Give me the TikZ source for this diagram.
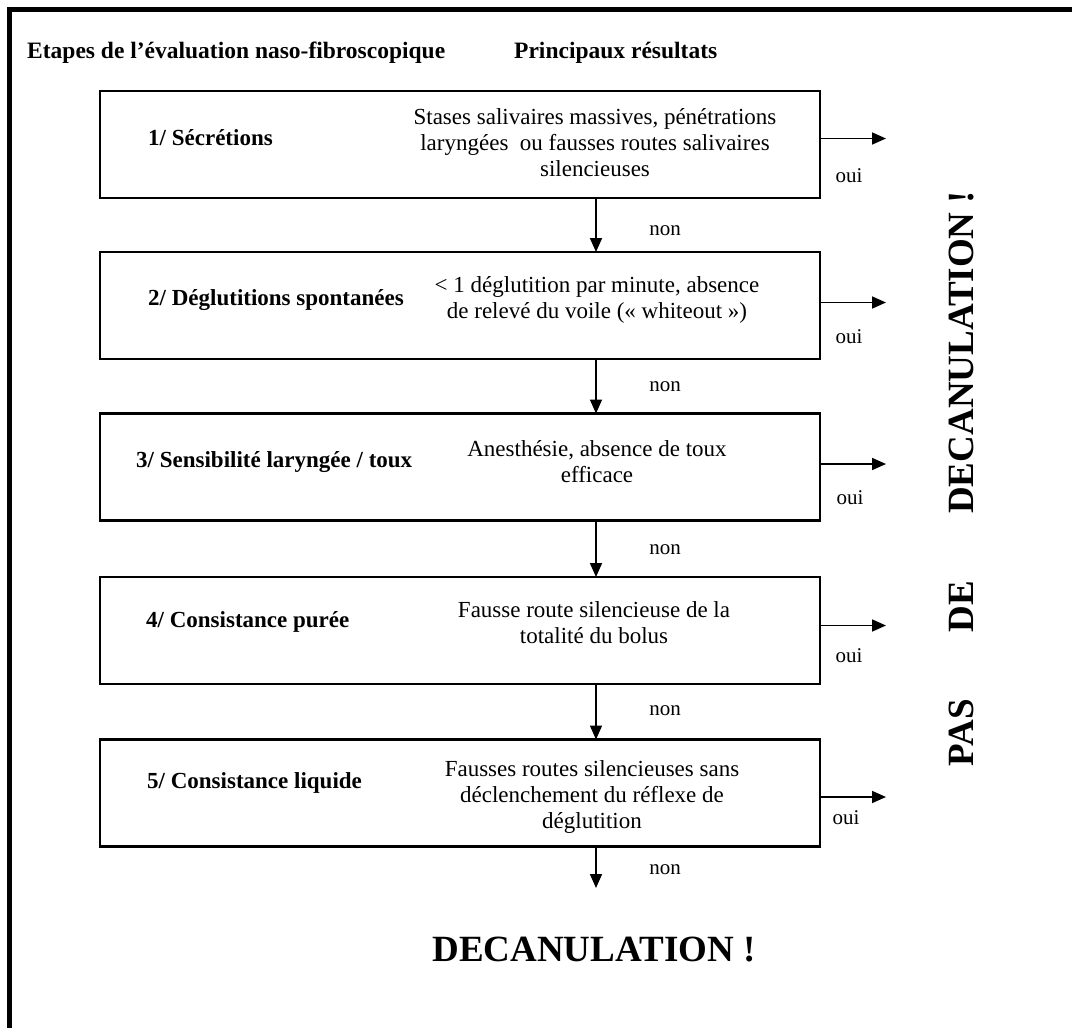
\documentclass[tikz,border=0pt]{standalone}
\usepackage{fontspec}
\setmainfont{Liberation Serif}
\usetikzlibrary{arrows.meta}
\begin{document}
\begin{tikzpicture}[x=1pt,y=-1pt,
  box/.style={draw,line width=2.7pt,minimum width=720pt,minimum height=107pt,inner sep=0pt,outer sep=0pt},
  lab/.style={anchor=west,inner sep=0pt,font=\fontsize{23}{26}\selectfont\bfseries},
  desc/.style={align=center,inner sep=0pt,font=\fontsize{23}{26}\selectfont},
  yn/.style={inner sep=0pt,font=\fontsize{21}{24}\selectfont},
  head/.style={anchor=base west,inner sep=0pt,font=\fontsize{23.5}{28}\selectfont\bfseries},
  big/.style={inner sep=0pt,font=\fontsize{37}{40}\selectfont\bfseries},
  arr/.style={line width=1.7pt,-{Triangle[length=14pt,width=12pt]}}]
\useasboundingbox (0,0) rectangle (1072,1028);
% frame (top and left edges)
\draw[line width=5pt,line join=miter] (1072,9.8) -- (9.8,9.8) -- (9.8,1028);
% headers
\node[head] (h1) at (27,58) {Etapes de l’évaluation naso-fibroscopique};
\node[head] (h2) at (514,58) {Principaux résultats};
% boxes
\node[box] (b1) at (460,144.5) {};
\node[box] (b2) at (460,305.5) {};
\node[box] (b3) at (460,467) {};
\node[box] (b4) at (460,630.5) {};
\node[box] (b5) at (460,793) {};
% left labels
\node[lab] (l1) at (148,138) {1/ Sécrétions};
\node[lab] (l2) at (148,300) {2/ Déglutitions spontanées};
\node[lab] (l3) at (136,462) {3/ Sensibilité laryngée / toux};
\node[lab] (l4) at (146,622) {4/ Consistance purée};
\node[lab] (l5) at (147,783) {5/ Consistance liquide};
% descriptions
\node[desc] (d1) at (595,143) {Stases salivaires massives, pénétrations\\laryngées\ \ ou fausses routes salivaires\\silencieuses};
\node[desc] (d2) at (597,300) {< 1 déglutition par minute, absence\\de relevé du voile (« whiteout »)};
\node[desc] (d3) at (597,462) {Anesthésie, absence de toux\\efficace};
\node[desc] (d4) at (594,623) {Fausse route silencieuse de la\\totalité du bolus};
\node[desc] (d5) at (592,797) {Fausses routes silencieuses sans\\déclenchement du réflexe de\\déglutition};
% down arrows
\coordinate (ax) at (596,0);
\coordinate (fin) at (596,888);
\draw[arr] (b1.south -| ax) -- (b2.north -| ax);
\draw[arr] (b2.south -| ax) -- (b3.north -| ax);
\draw[arr] (b3.south -| ax) -- (b4.north -| ax);
\draw[arr] (b4.south -| ax) -- (b5.north -| ax);
\draw[arr] (b5.south -| ax) -- (fin);
\node[yn] (n1) at (665,231) {non};
\node[yn] (n2) at (665,387) {non};
\node[yn] (n3) at (665,550) {non};
\node[yn] (n4) at (665,711) {non};
\node[yn] (n5) at (665,870) {non};
% right arrows
\draw[arr] ([yshift=6pt]b1.east) -- ++(66,0);
\draw[arr] ([yshift=3pt]b2.east) -- ++(66,0);
\draw[arr] ([yshift=3pt]b3.east) -- ++(66,0);
\draw[arr] ([yshift=5pt]b4.east) -- ++(66,0);
\draw[arr] ([yshift=-4pt]b5.east) -- ++(66,0);
\node[yn] (o1) at (849,176) {oui};
\node[yn] (o2) at (849,337) {oui};
\node[yn] (o3) at (850,498) {oui};
\node[yn] (o4) at (849,656) {oui};
\node[yn] (o5) at (846,818) {oui};
% vertical text
\node[big,rotate=90] (pas) at (962,478.5) {PAS\hspace{67pt}DE\hspace{67pt}DECANULATION !};
% final
\node[big] (dec) at (594,950) {DECANULATION !};
\end{tikzpicture}
\end{document}
